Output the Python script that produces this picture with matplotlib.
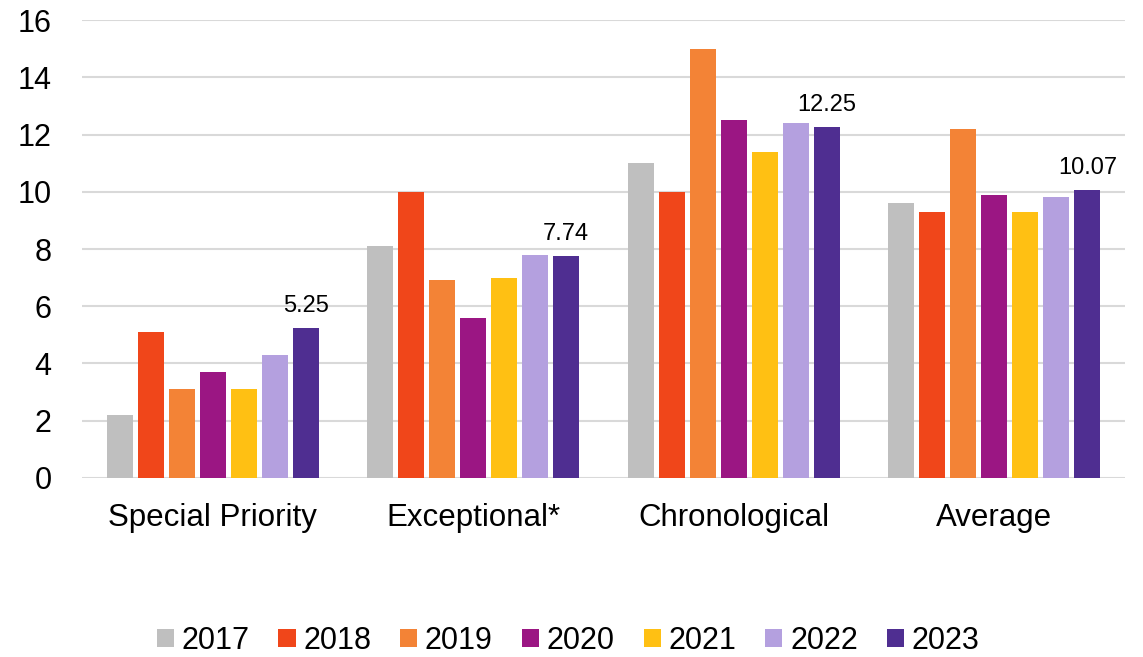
import matplotlib
matplotlib.use("Agg")
import matplotlib.pyplot as plt
import numpy as np

plt.rcParams['font.family'] = ['Liberation Sans', 'DejaVu Sans']

categories = ["Special Priority", "Exceptional*", "Chronological", "Average"]
years = ["2017", "2018", "2019", "2020", "2021", "2022", "2023"]
v2017 = [2.2, 8.1, 11.0, 9.6]
v2018 = [5.1, 10.0, 10.0, 9.3]
v2019 = [3.1, 6.9, 15.0, 12.2]
v2020 = [3.7, 5.6, 12.5, 9.9]
v2021 = [3.1, 7.0, 11.4, 9.3]
v2022 = [4.3, 7.8, 12.4, 9.8]
v2023 = [5.25, 7.74, 12.25, 10.07]
series = [v2017, v2018, v2019, v2020, v2021, v2022, v2023]
colors = ["#BFBFBF", "#F0461A", "#F38336", "#9B1683", "#FFC013", "#B4A0DF", "#4F2E91"]

fig = plt.figure(figsize=(11.43, 6.57), dpi=100)
ax = fig.add_axes([0.072, 0.2725, 0.912, 0.697])

x = np.arange(len(categories))
pitch = 0.119
width = 0.1
for i, (vals, c, yr) in enumerate(zip(series, colors, years)):
    pos = x + (i - 3) * pitch
    ax.bar(pos, vals, width=width, color=c, label=yr, zorder=3)
    if yr == "2023":
        for p, v in zip(pos, vals):
            ax.annotate(f"{v:.2f}", (p, v), xytext=(0, 8), textcoords="offset points",
                        ha="center", va="bottom", fontsize=17, color="black")

ax.set_xlim(-0.5, 3.5)
ax.set_ylim(0, 16)
ax.set_yticks(np.arange(0, 17, 2))
ax.set_xticks(x)
ax.set_xticklabels(categories, fontsize=22.5)
ax.tick_params(axis='y', labelsize=22, length=0, pad=22)
ax.tick_params(axis='x', length=0, pad=18)
ax.yaxis.grid(True, color="#D9D9D9", linewidth=1.5, zorder=0)
ax.set_axisbelow(True)
for s in ax.spines.values():
    s.set_visible(False)

fig.legend(loc="center", bbox_to_anchor=(0.497, 0.025), ncol=7, frameon=False,
           fontsize=22, handlelength=0.56, handleheight=0.52, handletextpad=0.25,
           columnspacing=0.95)

fig.savefig("out.png", dpi=100)
